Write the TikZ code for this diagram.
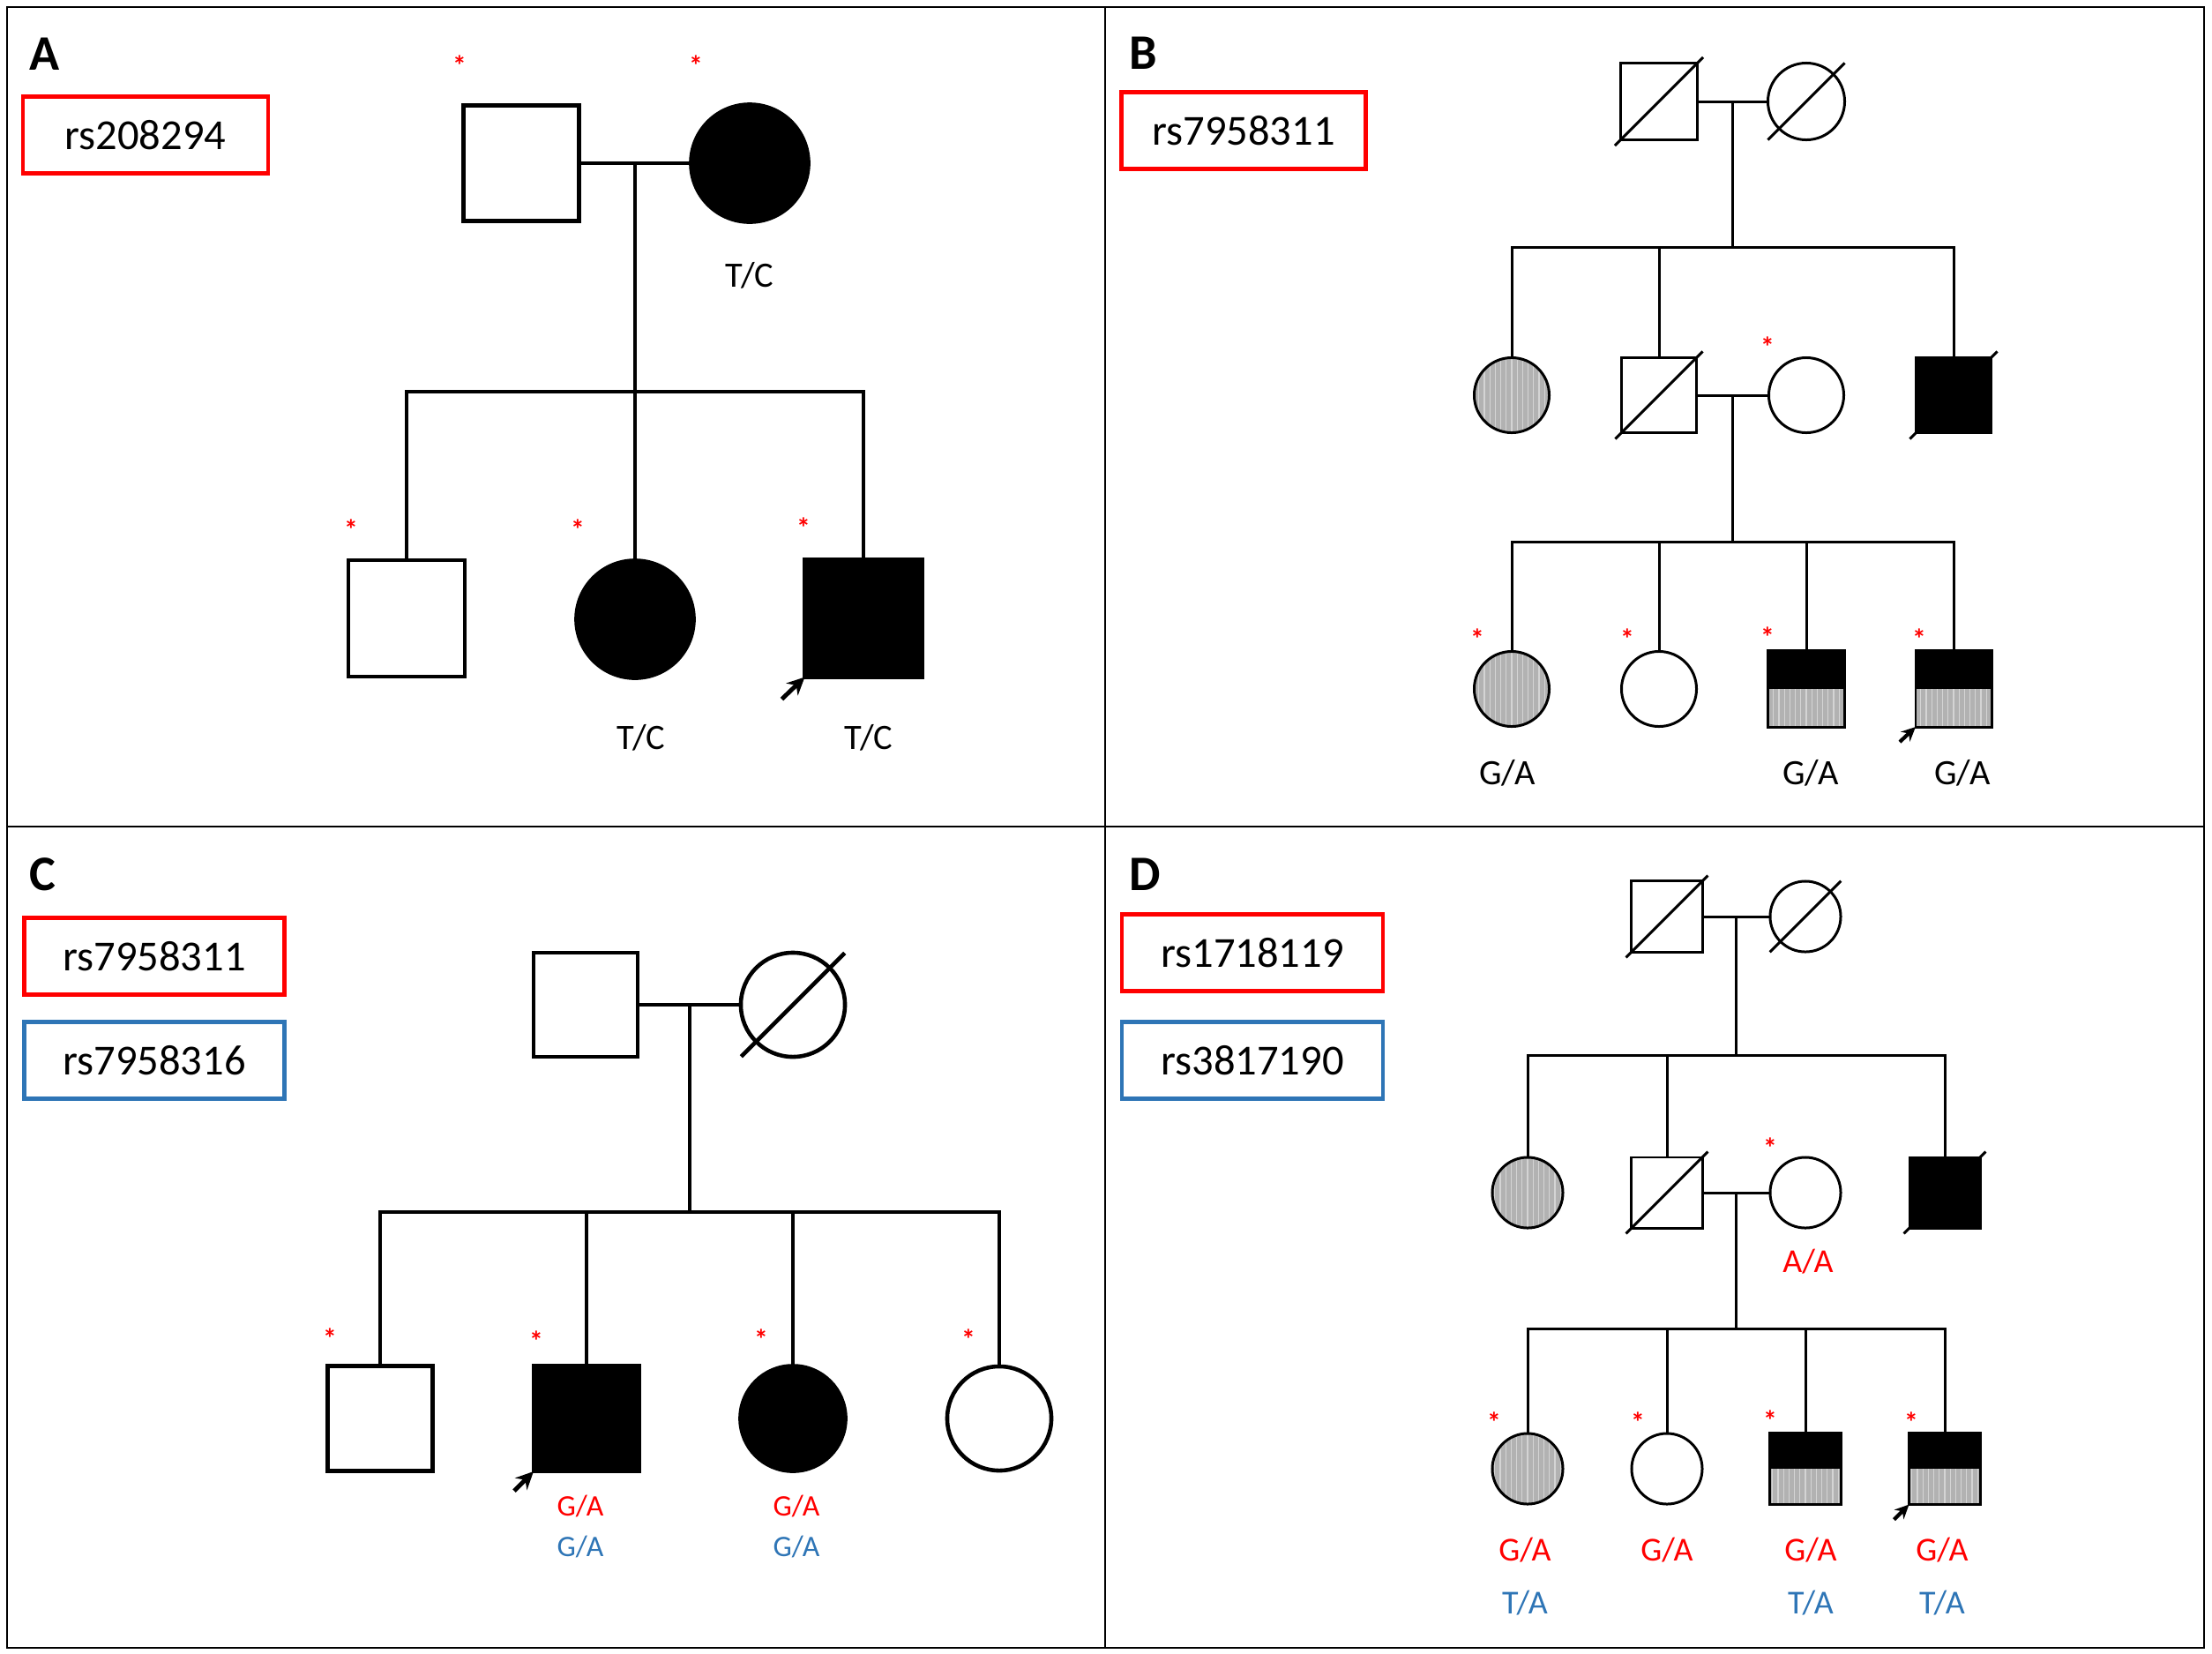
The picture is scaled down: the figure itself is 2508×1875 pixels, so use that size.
\documentclass[tikz,border=0pt]{standalone}
\usepackage{fontspec}
\setmainfont{Carlito}
\usetikzlibrary{arrows.meta}
\definecolor{snpred}{RGB}{255,0,0}
\definecolor{snpblue}{RGB}{46,117,182}
\definecolor{hatchbg}{RGB}{178,178,178}
\definecolor{hatchln}{RGB}{212,212,212}
\begin{document}
\begin{tikzpicture}[x=0.01cm,y=-0.01cm,
  every node/.style={inner sep=0pt, outer sep=0pt},
  male/.style={draw, rectangle, fill=white, minimum size=#1},
  female/.style={draw, circle, fill=white, minimum size=#1},
  aff/.style={fill=black},
  hatch/.style={path picture={
     \fill[hatchbg] (path picture bounding box.south west) rectangle (path picture bounding box.north east);
     \foreach \k in {-12,...,12}
       \draw[hatchln, line width=0.35pt] ([xshift=\k*0.062cm]path picture bounding box.north) -- ([xshift=\k*0.062cm]path picture bounding box.south);}},
  halfaff/.style={path picture={
     \fill[hatchbg] (path picture bounding box.south west) rectangle (path picture bounding box.north east);
     \foreach \k in {-12,...,12}
       \draw[hatchln, line width=0.35pt] ([xshift=\k*0.062cm]path picture bounding box.north) -- ([xshift=\k*0.062cm]path picture bounding box.south);
     \fill[black] (path picture bounding box.north west) rectangle (path picture bounding box.east);}},
  panel/.style={font=\fontsize{16}{18}\selectfont\bfseries},
  snpbox/.style={draw, line width=1.2pt, minimum width=#1, minimum height=0.87cm, font=\fontsize{13.8}{16}\selectfont},
  redstar/.style={text=snpred, font=\fontsize{9}{9}\selectfont\bfseries, anchor=base, yshift=-0.17cm},
  lblA/.style={font=\fontsize{11.5}{13}\selectfont},
  lblC/.style={font=\fontsize{9.6}{11}\selectfont},
  lblD/.style={font=\fontsize{10.8}{12}\selectfont},
  proband/.style={-{Stealth[length=0.16cm,width=0.15cm]}, line width=1.2pt},
  probandbig/.style={-{Stealth[length=0.2cm,width=0.19cm]}, line width=1.4pt},
]
\useasboundingbox (0,0) rectangle (2508,1875);
% frame
\draw[line width=0.7pt] (8,8) rectangle (2499,1868);
\draw[line width=0.7pt] (1253,8) -- (1253,1868);
\draw[line width=0.7pt] (8,937) -- (2499,937);

% ================= Panel A =================
\node[panel] (A) at (51,61) {A};
\node[snpbox=2.78cm, draw=snpred] (a-snp) at (165,153) {rs208294};
\begin{scope}[line width=1.1pt]
\node[male=1.31cm, line width=1.3pt] (a-f) at (591,185) {};
\node[female=1.33cm, aff, line width=1.3pt] (a-m) at (850,185) {};
\coordinate (a-mm) at (720,185);
\coordinate (a-s) at (720,444);
\node[male=1.32cm, line width=1.3pt] (a-c1) at (461,701) {};
\node[female=1.33cm, aff, line width=1.3pt] (a-c2) at (720,702) {};
\node[male=1.33cm, aff, line width=1.3pt] (a-c3) at (979,701) {};
\draw (a-f) -- (a-m);
\draw (a-mm) -- (a-s);
\draw (a-c1.north) |- (a-s) -| (a-c3.north);
\draw (a-c2.north) -- (a-s);
\draw[probandbig] ([shift={(-0.26cm,-0.25cm)}]a-c3.south west) -- (a-c3.south west);
\end{scope}
\node[redstar] (a-st1) at (521,68) {*};
\node[redstar] (a-st2) at (789,68) {*};
\node[redstar] (a-st3) at (398,594) {*};
\node[redstar] (a-st4) at (655,594) {*};
\node[redstar] (a-st5) at (911,592) {*};
\node[lblA] (a-l1) at (850,312) {T/C};
\node[lblA] (a-l2) at (727,836) {T/C};
\node[lblA] (a-l3) at (985,836) {T/C};

% ================= Panel B =================
\node[panel] (B) at (1296,60) {B};
\node[snpbox=2.77cm, draw=snpred] (b-snp) at (1410,148) {rs7958311};
\begin{scope}[line width=0.85pt]
\node[male=0.86cm] (b-gf) at (1881,115) {};
\node[female=0.87cm] (b-gm) at (2048,115) {};
\coordinate (b-mm1) at (1964,115);
\coordinate (b-s1) at (1964,280);
\node[female=0.85cm, hatch] (b-g1) at (1714,448) {};
\node[male=0.85cm] (b-g2) at (1881,448) {};
\node[female=0.85cm] (b-g3) at (2048,448) {};
\node[male=0.85cm, aff] (b-g4) at (2215,448) {};
\coordinate (b-mm2) at (1964,448);
\coordinate (b-s2) at (1964,614);
\node[female=0.85cm, hatch] (b-c1) at (1714,781) {};
\node[female=0.85cm] (b-c2) at (1881,781) {};
\node[male=0.86cm, halfaff] (b-c3) at (2048,781) {};
\node[male=0.86cm, halfaff] (b-c4) at (2215,781) {};
\draw (b-gf) -- (b-gm);
\draw (b-mm1) -- (b-s1);
\draw (b-g1.north) |- (b-s1) -| (b-g4.north);
\draw (b-g2.north) -- (b-g2.north |- b-s1);
\draw (b-g2) -- (b-g3);
\draw (b-mm2) -- (b-s2);
\draw (b-c1.north) |- (b-s2) -| (b-c4.north);
\draw (b-c2.north) -- (b-c2.north |- b-s2);
\draw (b-c3.north) -- (b-c3.north |- b-s2);
\draw[shorten <=-0.1cm, shorten >=-0.1cm] (b-gf.south west) -- (b-gf.north east);
\draw[shorten <=-0.18cm, shorten >=-0.18cm] (b-gm.south west) -- (b-gm.north east);
\draw[shorten <=-0.1cm, shorten >=-0.1cm] (b-g2.south west) -- (b-g2.north east);
\draw[shorten <=-0.1cm, shorten >=-0.1cm] (b-g4.south west) -- (b-g4.north east);
\draw[proband] ([shift={(-0.18cm,-0.17cm)}]b-c4.south west) -- (b-c4.south west);
\end{scope}
\node[redstar] (b-st1) at (2004,387) {*};
\node[redstar] (b-st2) at (1675,718) {*};
\node[redstar] (b-st3) at (1845,718) {*};
\node[redstar] (b-st4) at (2004,716) {*};
\node[redstar] (b-st5) at (2176,718) {*};
\node[lblA] (b-l1) at (1709,876) {G/A};
\node[lblA] (b-l2) at (2053,876) {G/A};
\node[lblA] (b-l3) at (2225,876) {G/A};

% ================= Panel C =================
\node[panel] (C) at (48,991) {C};
\node[snpbox=2.95cm, draw=snpred] (c-snp1) at (175,1084) {rs7958311};
\node[snpbox=2.95cm, draw=snpblue] (c-snp2) at (175,1202) {rs7958316};
\begin{scope}[line width=1.1pt]
\node[male=1.18cm, line width=1.3pt] (c-f) at (664,1139) {};
\node[female=1.18cm, line width=1.3pt] (c-m) at (899,1139) {};
\coordinate (c-mm) at (782,1139);
\coordinate (c-s) at (782,1374);
\node[male=1.19cm, line width=1.3pt] (c-c1) at (431,1608) {};
\node[male=1.2cm, aff, line width=1.3pt] (c-c2) at (665,1608) {};
\node[female=1.19cm, aff, line width=1.3pt] (c-c3) at (899,1608) {};
\node[female=1.18cm, line width=1.3pt] (c-c4) at (1133,1608) {};
\draw (c-f) -- (c-m);
\draw (c-mm) -- (c-s);
\draw (c-c1.north) |- (c-s) -| (c-c4.north);
\draw (c-c2.north) -- (c-c2.north |- c-s);
\draw (c-c3.north) -- (c-c3.north |- c-s);
\draw[line width=1.3pt, shorten <=-0.24cm, shorten >=-0.24cm] (c-m.south west) -- (c-m.north east);
\draw[probandbig] ([shift={(-0.22cm,-0.22cm)}]c-c2.south west) -- (c-c2.south west);
\end{scope}
\node[redstar] (c-st1) at (374,1511) {*};
\node[redstar] (c-st2) at (608,1514) {*};
\node[redstar] (c-st3) at (863,1512) {*};
\node[redstar] (c-st4) at (1098,1512) {*};
\node[lblC, text=snpred] (c-l1) at (658,1707) {G/A};
\node[lblC, text=snpblue] (c-l2) at (658,1753) {G/A};
\node[lblC, text=snpred] (c-l3) at (903,1707) {G/A};
\node[lblC, text=snpblue] (c-l4) at (903,1753) {G/A};

% ================= Panel D =================
\node[panel] (D) at (1298,991) {D};
\node[snpbox=2.96cm, draw=snpred] (d-snp1) at (1420,1080) {rs1718119};
\node[snpbox=2.96cm, draw=snpblue] (d-snp2) at (1420,1202) {rs3817190};
\begin{scope}[line width=0.85pt]
\node[male=0.80cm] (d-gf) at (1890,1039) {};
\node[female=0.80cm] (d-gm) at (2047,1039) {};
\coordinate (d-mm1) at (1968,1039);
\coordinate (d-s1) at (1968,1196);
\node[female=0.80cm, hatch] (d-g1) at (1732,1352) {};
\node[male=0.80cm] (d-g2) at (1890,1352) {};
\node[female=0.80cm] (d-g3) at (2047,1352) {};
\node[male=0.80cm, aff] (d-g4) at (2205,1352) {};
\coordinate (d-mm2) at (1968,1352);
\coordinate (d-s2) at (1968,1506);
\node[female=0.80cm, hatch] (d-c1) at (1732,1665) {};
\node[female=0.80cm] (d-c2) at (1890,1665) {};
\node[male=0.81cm, halfaff] (d-c3) at (2047,1665) {};
\node[male=0.81cm, halfaff] (d-c4) at (2205,1665) {};
\draw (d-gf) -- (d-gm);
\draw (d-mm1) -- (d-s1);
\draw (d-g1.north) |- (d-s1) -| (d-g4.north);
\draw (d-g2.north) -- (d-g2.north |- d-s1);
\draw (d-g2) -- (d-g3);
\draw (d-mm2) -- (d-s2);
\draw (d-c1.north) |- (d-s2) -| (d-c4.north);
\draw (d-c2.north) -- (d-c2.north |- d-s2);
\draw (d-c3.north) -- (d-c3.north |- d-s2);
\draw[shorten <=-0.09cm, shorten >=-0.09cm] (d-gf.south west) -- (d-gf.north east);
\draw[shorten <=-0.17cm, shorten >=-0.17cm] (d-gm.south west) -- (d-gm.north east);
\draw[shorten <=-0.09cm, shorten >=-0.09cm] (d-g2.south west) -- (d-g2.north east);
\draw[shorten <=-0.09cm, shorten >=-0.09cm] (d-g4.south west) -- (d-g4.north east);
\draw[proband] ([shift={(-0.17cm,-0.17cm)}]d-c4.south west) -- (d-c4.south west);
\end{scope}
\node[redstar] (d-st1) at (2007,1295) {*};
\node[redstar] (d-st2) at (1694,1606) {*};
\node[redstar] (d-st3) at (1857,1606) {*};
\node[redstar] (d-st4) at (2007,1604) {*};
\node[redstar] (d-st5) at (2167,1606) {*};
\node[lblD, text=snpred] (d-l0) at (2050,1430) {A/A};
\node[lblD, text=snpred] (d-l1) at (1729,1757) {G/A};
\node[lblD, text=snpred] (d-l2) at (1890,1757) {G/A};
\node[lblD, text=snpred] (d-l3) at (2053,1757) {G/A};
\node[lblD, text=snpred] (d-l4) at (2202,1757) {G/A};
\node[lblD, text=snpblue] (d-l5) at (1729,1817) {T/A};
\node[lblD, text=snpblue] (d-l6) at (2053,1817) {T/A};
\node[lblD, text=snpblue] (d-l7) at (2202,1817) {T/A};
\end{tikzpicture}
\end{document}
